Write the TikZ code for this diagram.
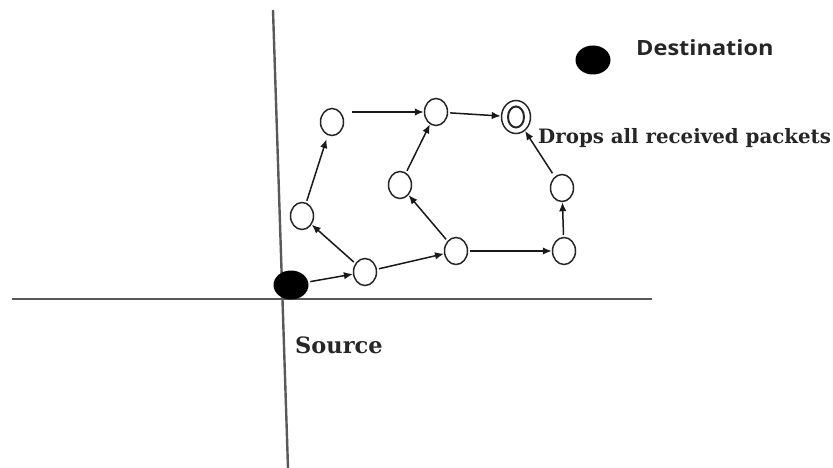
\documentclass[tikz,border=0pt]{standalone}
\usepackage{fontspec}
\setmainfont{DejaVu Serif}
\newfontfamily\labsans{Open Sans}
\usetikzlibrary{arrows.meta,shapes.geometric}
\begin{document}
\begin{tikzpicture}[x=1pt,y=-1pt,
  hop/.style={ellipse,draw=black!85,line width=1.5pt,minimum width=23pt,minimum height=27pt,inner sep=0pt},
  endpt/.style={ellipse,fill=black,minimum width=35pt,minimum height=29pt,inner sep=0pt},
  axis/.style={draw=black!65,line width=2.4pt},
  link/.style={draw=black!90,line width=1.5pt,-{Latex[length=9pt,width=7.5pt]},shorten <=2pt},
  lab/.style={anchor=base west,inner sep=0pt,text=black!85}]
\useasboundingbox (0,0) rectangle (833,468);
% axes
\coordinate (vt) at (273,10);
\coordinate (vb) at (288,468);
\coordinate (hl) at (12,299);
\coordinate (hr) at (652,299);
\draw[axis] (vt) -- (vb);
\draw[axis] (hl) -- (hr);
% nodes
\node[endpt] (src) at (291,285) {};
\node[endpt] (dst) at (593,60) {};
\node[hop] (n1) at (365,272) {};
\node[hop] (n2) at (302,216) {};
\node[hop] (n3) at (332,122) {};
\node[hop] (n4) at (436,112) {};
\node[ellipse,draw=black!85,line width=1.5pt,minimum width=29pt,minimum height=33pt,inner sep=0pt] (n5) at (516,117) {};
\node[ellipse,draw=black!85,line width=2pt,minimum width=16pt,minimum height=21pt,inner sep=0pt] (n5i) at (516,117) {};
\node[hop] (n6) at (400,185) {};
\node[hop] (n7) at (456,251) {};
\node[hop] (n8) at (564,251) {};
\node[hop] (n9) at (562,188) {};
% links
\draw[link] (src) -- (n1);
\draw[link] (n1) -- (n2);
\draw[link,shorten >=4pt] (n2) -- (n3);
\draw[link,shorten <=8pt] (n3.east |- n4.west) -- (n4.west);
\draw[link] (n4) -- (n5);
\draw[link] (n1) -- (n7);
\draw[link] (n7) -- (n6);
\draw[link] (n6) -- (n4);
\draw[link] (n7) -- (n8);
\draw[link] (n8) -- (n9);
\draw[link,shorten <=4pt] (n9) -- (n5);
% labels
\node[lab,font=\labsans\bfseries\fontsize{21}{21}\selectfont] (tdst) at (636,56) {\scalebox{1.12}[1]{Destination}};
\node[lab,font=\bfseries\fontsize{22.5}{22.5}\selectfont] (tsrc) at (295,353) {Source};
\node[lab,font=\bfseries\fontsize{19.8}{19.8}\selectfont] (tdrop) at (538,144) {Drops all received packets};
\end{tikzpicture}
\end{document}
